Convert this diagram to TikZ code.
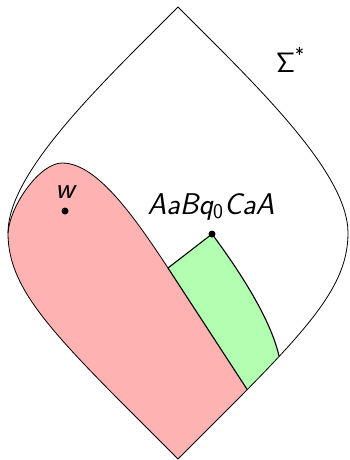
\documentclass[tikz,border=0pt]{standalone}
\usepackage{fontspec}
\newcommand{\smallsub}[1]{\raisebox{-0.16em}{\fontsize{21}{22}\selectfont\upshape #1}}
\newcommand{\smallsup}[1]{\raisebox{0.42em}{\fontsize{19}{20}\selectfont\upshape #1}}
\begin{document}
\begin{tikzpicture}[x=1pt,y=-1pt,line join=round,
  thinline/.style={draw=black,line width=0.8pt},
  edgeline/.style={draw=black,line width=1.1pt},
  dotmark/.style={circle,fill=black,inner sep=0pt,minimum size=7pt},
  lbl/.style={anchor=base,inner sep=0pt,font=\sffamily\fontsize{30}{33}\selectfont},
  siglbl/.style={anchor=base,inner sep=0pt,font=\sffamily\fontsize{28}{30}\selectfont}]
\useasboundingbox (0,0) rectangle (349,460);
\coordinate (T) at (178,7);
\coordinate (B) at (178,459);
\coordinate (L) at (8,233);
\coordinate (R) at (348,233);
\coordinate (G1) at (168,268);
\coordinate (P) at (212,234);
\path (R) .. controls (348,293) and (298,339) .. coordinate[pos=0.65] (G2) coordinate[pos=0.78] (G3) (B);
% red region
\fill[red!30] (B) .. controls (58,339) and (8,293) .. (L)
  .. controls (10,205) and (40,163) .. (62,163)
  .. controls (95,163) and (130,210) .. (G1) -- (G3) -- cycle;
\draw[thinline] (L) .. controls (10,205) and (40,163) .. (62,163)
  .. controls (95,163) and (130,210) .. (G1);
% green region
\fill[green!30] (P) -- (G1) -- (G3) -- (G2) .. controls (270,316) and (235,265) .. (P);
\draw[edgeline] (G2) .. controls (270,316) and (235,265) .. (P) -- (G1) -- (G3);
% outer shape
\draw[thinline] (T) .. controls (98,87) and (8,173) .. (L)
  .. controls (8,293) and (58,339) .. (B)
  .. controls (298,339) and (348,293) .. (R)
  .. controls (348,173) and (258,87) .. cycle;
% dots and labels
\node[dotmark] (p) at (P) {};
\node[dotmark] (w) at (65,211) {};
\node[lbl] (plabel) at (211,214) {\itshape AaBq\smallsub{0}\kern1pt CaA};
\node[lbl] (wlabel) at (65,198) {\itshape w};
\node[siglbl] (sigma) at (290,73) {Σ\smallsup{*}};
\end{tikzpicture}
\end{document}
